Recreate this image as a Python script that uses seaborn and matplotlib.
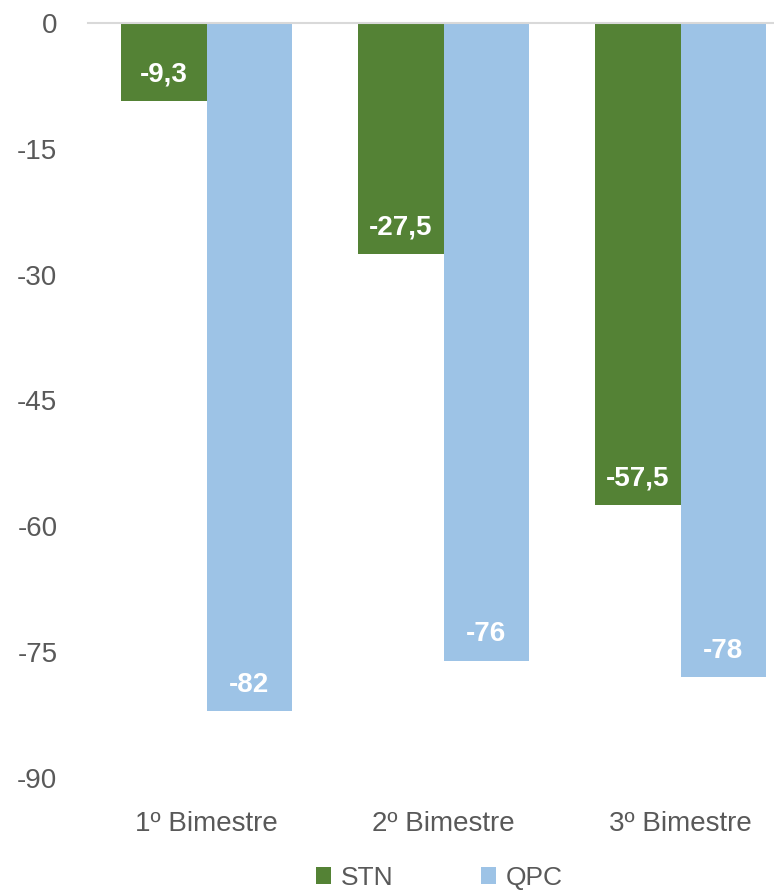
import matplotlib
matplotlib.use("Agg")
import matplotlib.pyplot as plt
from matplotlib.patches import Patch
import seaborn as sns
import pandas as pd

categories = ["1º Bimestre", "2º Bimestre", "3º Bimestre"]
series_names = ["STN", "QPC"]
stn_values = [-9.3, -27.5, -57.5]
qpc_values = [-82, -76, -78]
yticks = [0, -15, -30, -45, -60, -75, -90]
colors = {"STN": "#548235", "QPC": "#9DC3E6"}

rows = []
for c, s, q in zip(categories, stn_values, qpc_values):
    rows.append({"cat": c, "serie": "STN", "val": s})
    rows.append({"cat": c, "serie": "QPC", "val": q})
df = pd.DataFrame(rows)

sns.set_theme(style="white")
plt.rcParams["font.family"] = ["Liberation Sans", "DejaVu Sans"]

fig = plt.figure(figsize=(7.74, 8.92), dpi=100)
ax = fig.add_axes([88/774, 1-778/892, 1-88/774, 755/892])

sns.barplot(data=df, x="cat", y="val", hue="serie", order=categories,
            hue_order=series_names, palette=colors, width=0.72,
            saturation=1, ax=ax, legend=False, edgecolor="none", linewidth=0)

ax.set_ylim(-90, 0)
ax.set_xlim(-0.5, -0.5 + (774-88)/237)
ax.set_yticks(yticks)
ax.set_yticklabels([str(t) for t in yticks], fontsize=20, color="#595959")
ax.set_xticks(range(len(categories)))
ax.set_xticklabels(categories, fontsize=20, color="#595959")
ax.tick_params(axis="y", length=0, pad=22)
ax.tick_params(axis="x", length=0, pad=24)
ax.set_xlabel("")
ax.set_ylabel("")
for sp in ["left", "right", "bottom"]:
    ax.spines[sp].set_visible(False)
ax.spines["top"].set_visible(True)
ax.spines["top"].set_color("#D9D9D9")
ax.spines["top"].set_linewidth(1.5)

def fmt(v):
    s = f"{v:.1f}".replace(".", ",")
    if s.endswith(",0"):
        s = s[:-2]
    return s

for container in ax.containers:
    for bar in container:
        h = bar.get_height()
        x = bar.get_x() + bar.get_width()/2
        ax.annotate(fmt(h), (x, h), xytext=(0, 19), textcoords="offset points",
                    ha="center", va="center", color="white", fontsize=20,
                    fontweight="bold")

handles = [Patch(facecolor=colors[n], edgecolor="none", label=n) for n in series_names]
fig.legend(handles=handles, loc="lower center", ncol=2, frameon=False,
           fontsize=19, handlelength=0.55, handleheight=0.65, handletextpad=0.4,
           columnspacing=3.3, bbox_to_anchor=(0.568, -0.024),
           labelcolor="#595959")

fig.savefig("out.png", dpi=100)
